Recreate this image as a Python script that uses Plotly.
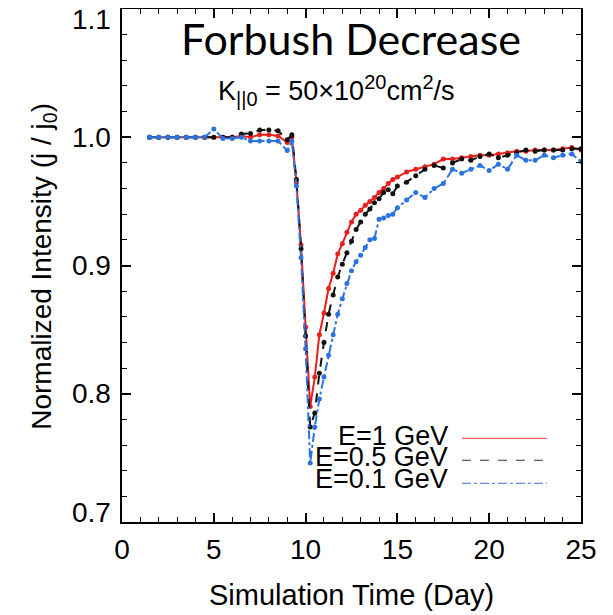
import plotly.graph_objects as go

# ---- data ----
pre_days = [1.5, 2.0, 2.5, 3.0, 3.5, 4.0, 4.5, 5.0, 5.5, 6.0, 6.5, 7.0, 7.5, 8.0, 8.5, 9.0, 9.25]
dip_days = [9.5, 9.75, 10.0, 10.25, 10.5, 10.75, 11.0, 11.25, 11.5, 11.75, 12.0, 12.25, 12.5,
            12.75, 13.0, 13.25, 13.5, 13.75, 14.0, 14.25, 14.5, 14.75]
post_days = [15.0, 15.5, 16.0, 16.5, 17.0, 17.5, 18.0, 18.5, 19.0, 19.5, 20.0, 20.5, 21.0,
             21.5, 22.0, 22.5, 23.0, 23.5, 24.0, 24.5, 25.0]
days = pre_days + dip_days + post_days

red_1gev = [1.0, 1.0, 1.0, 1.0, 1.0, 1.0, 1.0, 1.0, 1.0, 1.0, 1.001, 1.0, 1.002, 1.002, 1.001, 0.996, 1.0,
            0.965, 0.916, 0.852, 0.790, 0.813, 0.846, 0.863, 0.882, 0.894, 0.909, 0.917, 0.926, 0.934,
            0.940, 0.943, 0.947, 0.950, 0.953, 0.957, 0.960, 0.964, 0.967,
            0.969, 0.973, 0.975, 0.977, 0.979, 0.983, 0.983, 0.984, 0.985, 0.986, 0.986, 0.987, 0.988,
            0.989, 0.989, 0.990, 0.990, 0.990, 0.991, 0.992, 0.990]

black_05gev = [1.0, 1.0, 1.0, 1.0, 1.0, 1.0, 1.0, 1.0, 1.0, 1.0, 1.0026, 1.003, 1.0056, 1.0056, 1.005, 0.998, 1.002,
               0.967, 0.913, 0.845, 0.774, 0.785, 0.816, 0.840, 0.862, 0.877, 0.891, 0.901, 0.910, 0.919,
               0.928, 0.934, 0.940, 0.944, 0.949, 0.952, 0.957, 0.959, 0.956,
               0.962, 0.965, 0.970, 0.975, 0.978, 0.976, 0.980, 0.983, 0.982, 0.985, 0.987, 0.984, 0.986,
               0.988, 0.990, 0.989, 0.990, 0.990, 0.990, 0.991, 0.991]

blue_01gev = [1.0, 1.0, 1.0, 1.0, 1.0, 1.0, 1.0, 1.0064, 0.999, 0.999, 1.0, 0.997, 0.997, 0.997, 0.997, 0.9896, 0.997,
              0.962, 0.906, 0.835, 0.746, 0.774, 0.796, 0.813, 0.830, 0.846, 0.862, 0.874, 0.886, 0.896,
              0.903, 0.908, 0.914, 0.920, 0.921, 0.936, 0.937, 0.939, 0.940,
              0.945, 0.951, 0.957, 0.953, 0.960, 0.964, 0.975, 0.972, 0.975, 0.978, 0.974, 0.979, 0.975,
              0.986, 0.982, 0.982, 0.986, 0.984, 0.986, 0.987, 0.981]

series_names = ["E=1 GeV", "E=0.5 GeV", "E=0.1 GeV"]
x_ticks = [0, 5, 10, 15, 20, 25]
y_ticks = [0.7, 0.8, 0.9, 1.0, 1.1]
y_tick_text = ["0.7", "0.8", "0.9", "1.0", "1.1"]

RED = "#e8201c"
BLACK = "#111111"
BLUE = "#2b73e0"
FONT = "Liberation Sans, Arial, Helvetica, sans-serif"

fig = go.Figure()
for vals, col, dash in [(red_1gev, RED, "solid"), (black_05gev, BLACK, "dash"), (blue_01gev, BLUE, "dashdot")]:
    fig.add_trace(go.Scatter(
        x=days, y=vals, mode="lines+markers",
        line=dict(color=col, width=2, dash=dash),
        marker=dict(color=col, size=5),
        showlegend=False, hoverinfo="skip"))

axis_common = dict(
    showline=True, linecolor="black", linewidth=2, mirror="allticks",
    ticks="inside", ticklen=9, tickwidth=1.5, tickcolor="black",
    showgrid=False, zeroline=False, automargin=False,
    tickfont=dict(family=FONT, size=28, color="black"),
)

fig.update_xaxes(range=[0, 25], tickvals=x_ticks,
                 minor=dict(ticks="inside", dtick=1, ticklen=5, tickwidth=1.2, tickcolor="black", showgrid=False),
                 ticklabelstandoff=1, **axis_common)
fig.update_yaxes(range=[0.7, 1.1], tickvals=y_ticks, showticklabels=False,
                 minor=dict(ticks="inside", dtick=0.02, tick0=0.7, ticklen=5, tickwidth=1.2, tickcolor="black", showgrid=False),
                 **axis_common)

# page geometry of the reference (the page body adds an 8px offset)
OFF = 8
PL, PR, PT, PB = 122.3, 581.0, 9.0, 521.7
W, H = 613, 615
L = PL - OFF
T = PT - OFF
R = W - (PR - OFF)
B = H - (PB - OFF)
pw, ph = PR - PL, PB - PT

def px(x):
    return (x - PL) / pw

def py(y):
    return (PB - y) / ph

annotations = [
    dict(text="Forbush Decrease", x=px(351), y=py(38), xref="paper", yref="paper",
         showarrow=False, xanchor="center", yanchor="middle",
         font=dict(family="Lato, Carlito, Open Sans, sans-serif", size=43, color="black")),
    dict(text="K<sub><span style='font-size:20px'>||0</span></sub> = 50×10<sup><span style='font-size:20px'>20</span></sup>cm<sup><span style='font-size:20px'>2</span></sup>/s",
         x=px(337), y=py(90), xref="paper", yref="paper",
         showarrow=False, xanchor="center", yanchor="middle",
         font=dict(family=FONT, size=27, color="black")),
    dict(text="Simulation Time (Day)", x=px(352), y=py(595), xref="paper", yref="paper",
         showarrow=False, xanchor="center", yanchor="middle",
         font=dict(family=FONT, size=29, color="black")),
    dict(text="Normalized Intensity (j / j<sub>0</sub>)", x=px(44), y=py(266), xref="paper", yref="paper",
         showarrow=False, xanchor="center", yanchor="middle", textangle=-90,
         font=dict(family=FONT, size=28, color="black")),
]
# y tick labels (outer ones are pulled inward as in the reference)
y_label_shift = [9.5, 0, 0, 0, -10]
for v, t, s in zip(y_ticks, y_tick_text, y_label_shift):
    annotations.append(dict(text=t, x=0, y=v, xref="paper", yref="y", showarrow=False,
                            xanchor="right", yanchor="middle", xshift=-9, yshift=s,
                            font=dict(family=FONT, size=28, color="black")))

leg_text_y = [436, 457, 479]
leg_line_y = [438, 460, 483]
leg_cols = ["#e83a35", "#333333", "#5f8ee0"]
leg_dash = ["solid", "dash", "dashdot"]
shapes = []
for name, ty, ly, c, d in zip(series_names, leg_text_y, leg_line_y, leg_cols, leg_dash):
    annotations.append(dict(text=name, x=px(450), y=py(ty), xref="paper", yref="paper",
                            showarrow=False, xanchor="right", yanchor="middle",
                            font=dict(family=FONT, size=27, color="black")))
    shapes.append(dict(type="line", xref="paper", yref="paper", x0=px(462), x1=px(547),
                       y0=py(ly), y1=py(ly), line=dict(color=c, width=1.2, dash=d)))

fig.update_layout(
    width=W, height=H,
    margin=dict(l=L, r=R, t=T, b=B, pad=0, autoexpand=False),
    plot_bgcolor="white", paper_bgcolor="white",
    annotations=annotations, shapes=shapes,
    showlegend=False,
)

fig.write_html("out.html")
